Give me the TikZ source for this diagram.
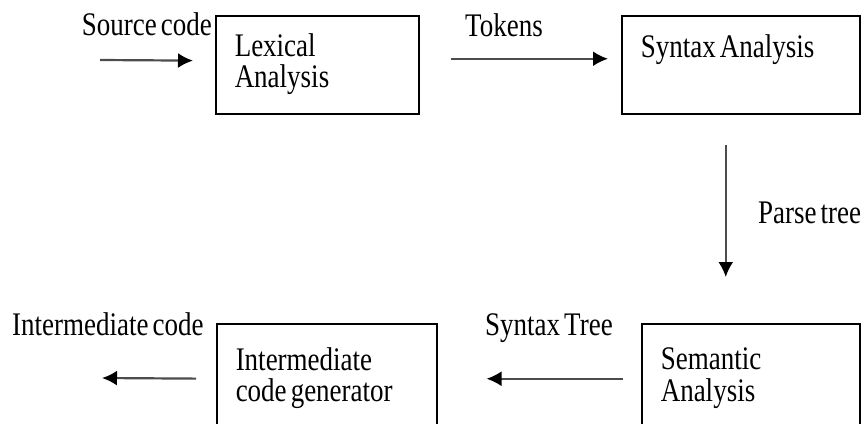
\documentclass[tikz,border=0pt]{standalone}
\usepackage{fontspec}
\setmainfont{Liberation Serif}
\usetikzlibrary{arrows.meta}
\newcommand{\tallstack}[1]{\scalebox{1}[1.22]{\spaceskip=0.15em\begin{tabular}[t]{@{}l@{}}#1\end{tabular}}}

\begin{document}
\begin{tikzpicture}[x=1pt,y=-1pt,
  every node/.style={font=\fontsize{27}{23}\selectfont},
  phase/.style={draw, line width=1.5pt, rectangle, align=left, inner xsep=19pt, inner ysep=4pt, anchor=north west},
  tag/.style={inner sep=0pt},
  flow/.style={line width=2.2pt, draw=black!70, -{Latex[length=15pt,width=15pt,color=black]}}]
  \clip (0,0) rectangle (866,423);

  % Compiler phases
  \node[phase, minimum height=98pt, text width=165pt] (lex) at (215,15) {\tallstack{Lexical\\Analysis}};
  \node[phase, minimum height=98pt, text width=200pt] (syn) at (621,15) {\tallstack{Syntax Analysis\\ ~}};
  \node[phase, minimum height=110pt, text width=180pt] (sem) at (641,323) {\tallstack{Semantic\\Analysis}};
  \node[phase, minimum height=110pt, text width=182pt] (gen) at (216,323) {\tallstack{Intermediate\\code generator}};

  % Labels on the arrows
  \node[tag, anchor=base east] (srclbl) at (212,35) {\tallstack{Source code}};
  \node[tag, anchor=base west] (toklbl) at (465,36) {\tallstack{Tokens}};
  \node[tag, anchor=base west] (parselbl) at (758,223) {\tallstack{Parse tree}};
  \node[tag, anchor=base west] (treelbl) at (485,335) {\tallstack{Syntax Tree}};
  \node[tag, anchor=base west] (irlbl) at (12,335) {\tallstack{Intermediate code}};

  \coordinate (srcin) at (100,60);
  \coordinate (genout) at (102,378);

  \draw[flow, shorten >=22pt] (srcin) -- ([yshift=4pt]lex.west);
  \draw[flow, shorten <=31pt, shorten >=13pt] ([yshift=6pt]lex.east) -- ([yshift=6pt]syn.west);
  \draw[flow, shorten <=30pt, shorten >=46pt] ([xshift=-15pt]syn.south) -- ([xshift=-15pt]syn.south |- sem.north);
  \draw[flow, shorten <=18pt, shorten >=49pt] (sem.west) -- (sem.west -| gen.east);
  \draw[flow, shorten <=20pt] (gen.west) -- (genout);
\end{tikzpicture}
\end{document}
